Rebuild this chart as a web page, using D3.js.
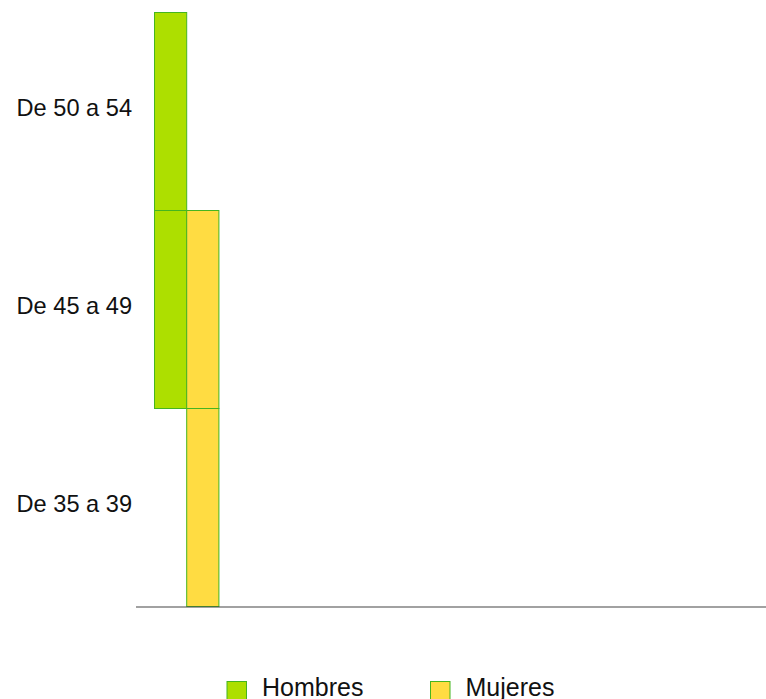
<!DOCTYPE html>
<html>
<head>
<meta charset="utf-8">
<script src="https://cdn.jsdelivr.net/npm/d3@7"></script>
<style>
  html, body { margin: 0; padding: 0; background: #fff; }
  svg { display: block; font-family: "Liberation Sans", Arial, sans-serif; }
</style>
</head>
<body>
<svg id="chart" width="766" height="699"></svg>
<script>
// Data
const categories = ["De 50 a 54", "De 45 a 49", "De 35 a 39"];
const seriesNames = ["Hombres", "Mujeres"];
const hombres = [1, 1, 0];
const mujeres = [0, 1, 1];

const svg = d3.select("#chart");
const W = 766, H = 699;

const y = d3.scaleBand().domain(categories).range([12.5, 606.5]).padding(0);
// series offset: Mujeres column sits after the widest Hombres bar
const hMax = d3.max(hombres);
const x = d3.scaleLinear().domain([0, 1]).range([154.5, 186.7]);

const colors = { Hombres: "#addf00", Mujeres: "#ffdc42" };
const strokeCol = "#45b520";

const rows = [];
categories.forEach((c, i) => {
  if (hombres[i] > 0) rows.push({ cat: c, s: "Hombres", x0: 0, x1: hombres[i] });
  if (mujeres[i] > 0) rows.push({ cat: c, s: "Mujeres", x0: hMax, x1: hMax + mujeres[i] });
});

svg.append("g").selectAll("rect").data(rows).join("rect")
  .attr("x", d => x(d.x0))
  .attr("width", d => x(d.x1) - x(d.x0))
  .attr("y", d => y(d.cat))
  .attr("height", y.bandwidth())
  .attr("fill", d => colors[d.s])
  .attr("stroke", strokeCol)
  .attr("stroke-width", 1);

// baseline axis
svg.append("line")
  .attr("x1", 136).attr("x2", W)
  .attr("y1", 607).attr("y2", 607)
  .attr("stroke", "#444").attr("stroke-width", 1.2);

// category labels
svg.append("g").selectAll("text").data(categories).join("text")
  .attr("x", 132)
  .attr("y", d => y(d) + y.bandwidth() / 2 + 4.5)
  .attr("text-anchor", "end")
  .attr("font-size", 23.6)
  .attr("fill", "#111")
  .text(d => d);

// legend
const legendX = [227, 430.5];
const lg = svg.append("g").selectAll("g").data(seriesNames).join("g")
  .attr("transform", (d, i) => `translate(${legendX[i]},681.5)`);
lg.append("rect").attr("width", 19.5).attr("height", 19.5)
  .attr("fill", d => colors[d]).attr("stroke", strokeCol).attr("stroke-width", 1);
lg.append("text").attr("x", 35).attr("y", 14)
  .attr("font-size", 25).attr("fill", "#111").text(d => d);
</script>
</body>
</html>
